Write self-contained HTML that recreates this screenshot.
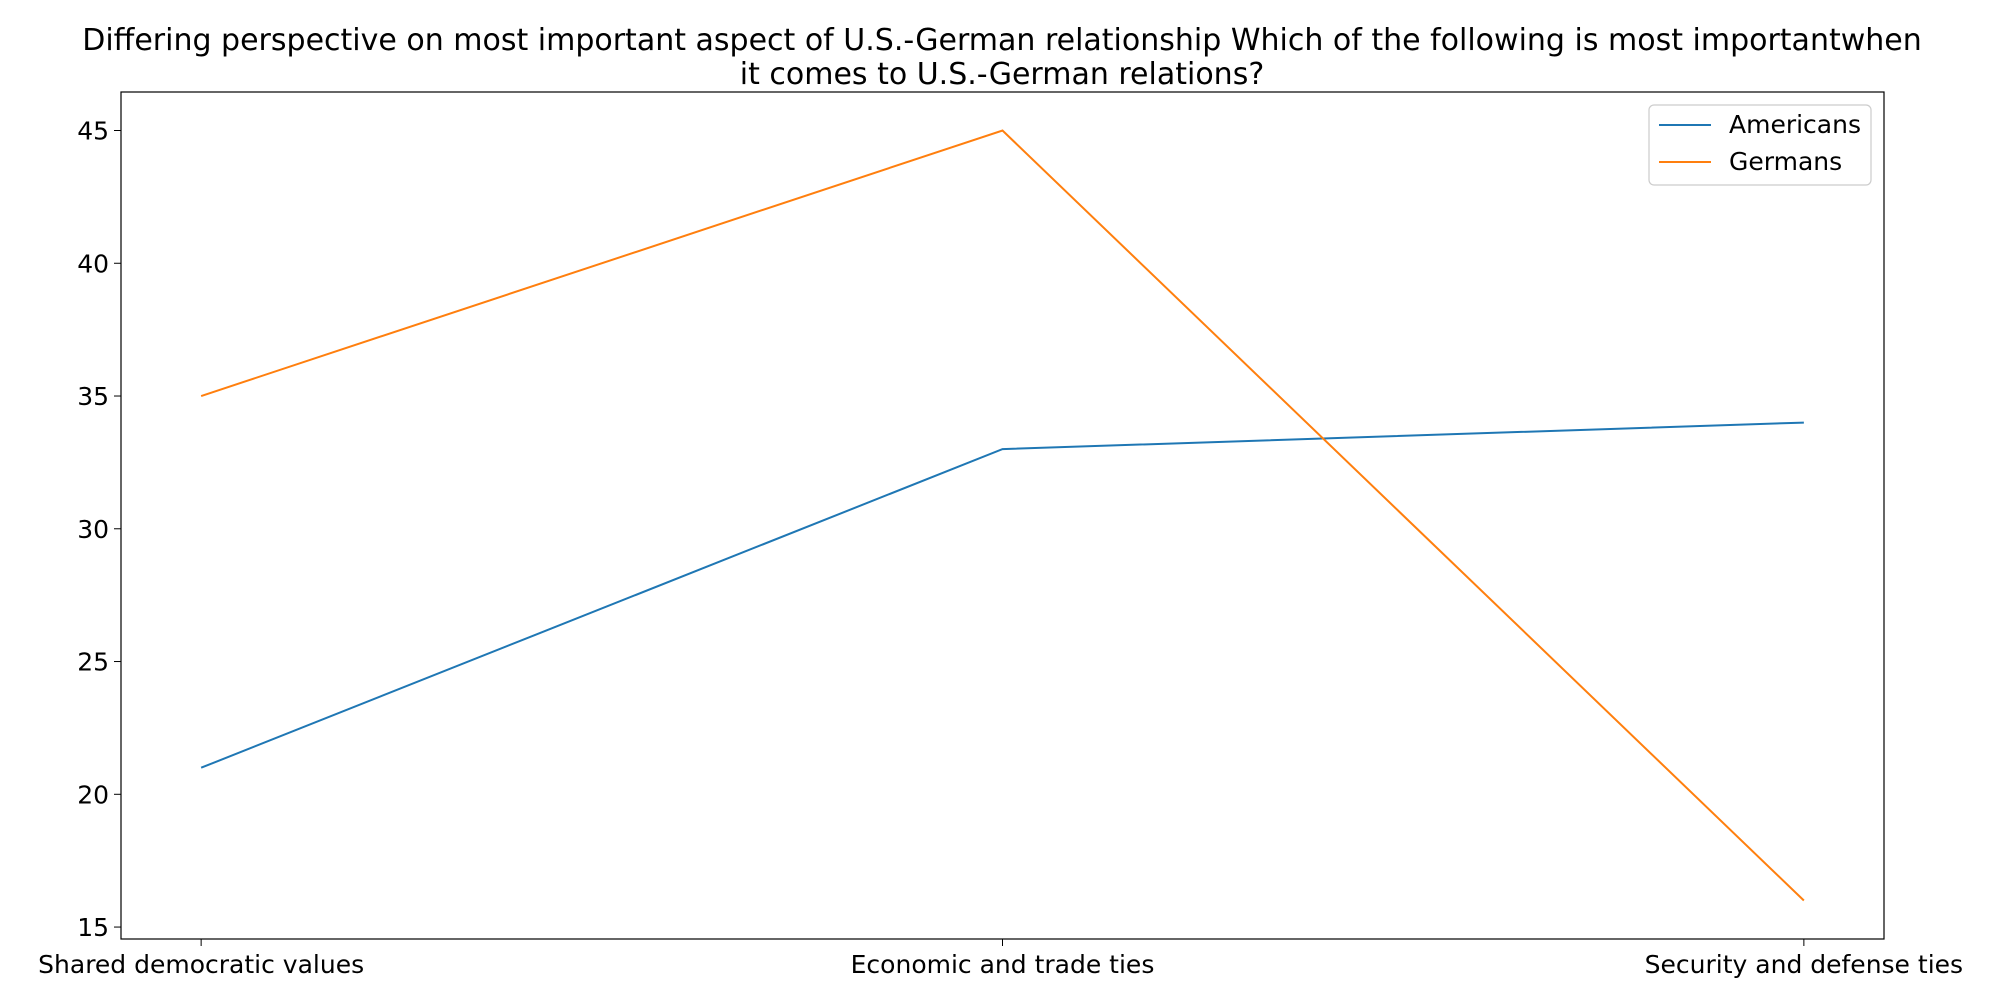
<!DOCTYPE html>
<html><head><meta charset="utf-8"><style>
html,body{margin:0;padding:0;background:#fff;}
svg{display:block;font-family:"DejaVu Sans","Liberation Sans",sans-serif;}
</style></head><body>
<svg id="chart" width="2000" height="1000" viewBox="0 0 2000 1000">
<text x="1002" y="50" font-size="30" text-anchor="middle">Differing perspective on most important aspect of U.S.-German relationship Which of the following is most importantwhen</text>
<text x="1002" y="84" font-size="30" text-anchor="middle">it comes to U.S.-German relations?</text>
<g id="ticks"></g>
<g id="series"></g>
<rect x="121" y="92" width="1763" height="847" fill="none" stroke="#000" stroke-width="1.2"/>
<g>
<rect x="1649" y="105" width="222" height="80" rx="5" fill="#fff" stroke="#ccc" stroke-width="1.2"/>
<line x1="1659" y1="125" x2="1711" y2="125" stroke="#1f77b4" stroke-width="2"/>
<text x="1729" y="133" font-size="25">Americans</text>
<line x1="1659" y1="162" x2="1711" y2="162" stroke="#ff7f0e" stroke-width="2"/>
<text x="1729" y="170" font-size="25">Germans</text>
</g>
</svg>
<script>
const categories = ["Shared democratic values","Economic and trade ties","Security and defense ties"];
const americans = [21, 33, 34];
const germans = [35, 45, 16];
const yTicks = [15, 20, 25, 30, 35, 40, 45];
const NS = "http://www.w3.org/2000/svg";
const L=121,R=1884,T=92,B=939;
const all = americans.concat(germans);
const mn=Math.min(...all), mx=Math.max(...all), pad=(mx-mn)*0.05;
const y0=mn-pad, y1=mx+pad;
const n=categories.length, xpad=(n-1)*0.05;
function xs(i){return L+(i+xpad)/((n-1)+2*xpad)*(R-L);}
function ys(v){return B-(v-y0)/(y1-y0)*(B-T);}
const tg=document.getElementById('ticks');
yTicks.forEach(v=>{
  const y=ys(v);
  const l=document.createElementNS(NS,'line');
  l.setAttribute('x1',L-7);l.setAttribute('x2',L);l.setAttribute('y1',y);l.setAttribute('y2',y);l.setAttribute('stroke','#000');
  
  
  tg.appendChild(l);
  const t=document.createElementNS(NS,'text');
  t.setAttribute('x',L-12);t.setAttribute('y',y+9);t.setAttribute('font-size','25');t.setAttribute('text-anchor','end');
  t.textContent=v;
  
  
  tg.appendChild(t);
});
categories.forEach((c,i)=>{
  const x=xs(i);
  const l=document.createElementNS(NS,'line');
  l.setAttribute('x1',x);l.setAttribute('x2',x);l.setAttribute('y1',B);l.setAttribute('y2',B+7);l.setAttribute('stroke','#000');
  
  
  tg.appendChild(l);
  const t=document.createElementNS(NS,'text');
  t.setAttribute('x',x);t.setAttribute('y',B+34);t.setAttribute('font-size','25');t.setAttribute('text-anchor','middle');
  t.textContent=c;
  
  
  tg.appendChild(t);
});
const sg=document.getElementById('series');
[[americans,'#1f77b4','americans'],[germans,'#ff7f0e','germans']].forEach(([d,col,nm])=>{
  const p=document.createElementNS(NS,'polyline');
  p.setAttribute('points',d.map((v,i)=>xs(i)+','+ys(v)).join(' '));
  p.setAttribute('fill','none');p.setAttribute('stroke',col);p.setAttribute('stroke-width','2');
  
  
  sg.appendChild(p);
});
</script>
</body></html>
